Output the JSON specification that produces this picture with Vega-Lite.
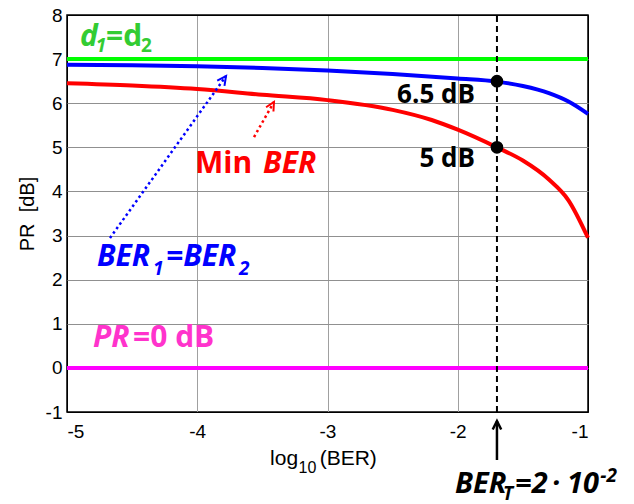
{
  "$schema": "https://vega.github.io/schema/vega-lite/v6.json",
  "width": 521,
  "height": 397,
  "autosize": {"type": "none"},
  "padding": {"left": 67, "top": 15, "right": 46, "bottom": 92},
  "background": "white",
  "config": {
    "view": {"stroke": "black", "strokeWidth": 1.5},
    "axis": {
      "labelFont": "Liberation Sans",
      "labelFontSize": 19,
      "labelColor": "black",
      "titleFont": "Liberation Sans",
      "titleFontWeight": "normal",
      "titleColor": "black",
      "ticks": false,
      "domain": false,
      "grid": true,
      "gridWidth": 1
    }
  },
  "datasets": {
    "curves": [
      {"s": "d1=d2", "x": -5, "y": 7},
      {"s": "d1=d2", "x": -1, "y": 7},
      {"s": "PR=0", "x": -5, "y": 0},
      {"s": "PR=0", "x": -1, "y": 0},
      {"s": "BER1=BER2", "x": -5, "y": 6.87},
      {"s": "BER1=BER2", "x": -4.5, "y": 6.86},
      {"s": "BER1=BER2", "x": -4, "y": 6.84},
      {"s": "BER1=BER2", "x": -3.5, "y": 6.8},
      {"s": "BER1=BER2", "x": -3, "y": 6.74},
      {"s": "BER1=BER2", "x": -2.5, "y": 6.66},
      {"s": "BER1=BER2", "x": -2, "y": 6.56},
      {"s": "BER1=BER2", "x": -1.7, "y": 6.49},
      {"s": "BER1=BER2", "x": -1.5, "y": 6.39},
      {"s": "BER1=BER2", "x": -1.3, "y": 6.23},
      {"s": "BER1=BER2", "x": -1.15, "y": 6.04},
      {"s": "BER1=BER2", "x": -1, "y": 5.76},
      {"s": "Min BER", "x": -5, "y": 6.45},
      {"s": "Min BER", "x": -4.5, "y": 6.4},
      {"s": "Min BER", "x": -4, "y": 6.32},
      {"s": "Min BER", "x": -3.5, "y": 6.19},
      {"s": "Min BER", "x": -3, "y": 6.07},
      {"s": "Min BER", "x": -2.5, "y": 5.85},
      {"s": "Min BER", "x": -2.2, "y": 5.62},
      {"s": "Min BER", "x": -2, "y": 5.4},
      {"s": "Min BER", "x": -1.7, "y": 5.0},
      {"s": "Min BER", "x": -1.5, "y": 4.7},
      {"s": "Min BER", "x": -1.3, "y": 4.27},
      {"s": "Min BER", "x": -1.15, "y": 3.8},
      {"s": "Min BER", "x": -1, "y": 2.95}
    ],
    "vline": [{"s": "black", "x": -1.699, "y": -1, "y2": 8}],
    "dots": [
      {"s": "black", "x": -1.699, "y": 6.5},
      {"s": "black", "x": -1.699, "y": 5.0}
    ],
    "arrows": [
      {"s": "BER1=BER2", "x": -4.67, "y": 2.944},
      {"s": "BER1=BER2", "x": -3.779, "y": 6.617},
      {"s": "Min BER", "x": -3.564, "y": 5.234},
      {"s": "Min BER", "x": -3.411, "y": 6.028},
      {"s": "black", "x": -1.699, "y": -2.088},
      {"s": "black", "x": -1.699, "y": -1.204}
    ],
    "heads": [
      {"s": "BER1=BER2", "x": -3.779, "y": 6.617},
      {"s": "Min BER", "x": -3.411, "y": 6.028},
      {"s": "black", "x": -1.699, "y": -1.204}
    ],
    "labels": [
      {"s": "d1=d2 label", "t": "d", "x": -4.9, "y": 7.3, "p": "i"},
      {"s": "d1=d2 label", "t": "1", "x": -4.78, "y": 7.16, "p": "is"},
      {"s": "d1=d2 label", "t": "=d", "x": -4.7, "y": 7.3, "p": "n"},
      {"s": "d1=d2 label", "t": "2", "x": -4.432, "y": 7.16, "p": "ns"},
      {"s": "Min BER", "t": "Min", "x": -4.017, "y": 4.418, "p": "n"},
      {"s": "Min BER", "t": "BER", "x": -3.495, "y": 4.418, "p": "i"},
      {"s": "BER1=BER2", "t": "BER", "x": -4.77, "y": 2.31, "p": "i"},
      {"s": "BER1=BER2", "t": "1", "x": -4.34, "y": 2.106, "p": "is"},
      {"s": "BER1=BER2", "t": "=BER", "x": -4.24, "y": 2.31, "p": "i"},
      {"s": "BER1=BER2", "t": "2", "x": -3.679, "y": 2.106, "p": "is"},
      {"s": "PR=0 label", "t": "PR", "x": -4.8, "y": 0.473, "p": "i"},
      {"s": "PR=0 label", "t": "=0 dB", "x": -4.493, "y": 0.473, "p": "n"},
      {"s": "black", "t": "6.5 dB", "x": -1.868, "y": 6.005, "p": "r"},
      {"s": "black", "t": "5 dB", "x": -1.868, "y": 4.554, "p": "r"},
      {"s": "black", "t": "BER", "x": -2.021, "y": -2.837, "p": "ib"},
      {"s": "black", "t": "T", "x": -1.653, "y": -2.99, "p": "is"},
      {"s": "black", "t": "=2", "x": -1.56, "y": -2.837, "p": "ib"},
      {"s": "black", "t": "·", "x": -1.276, "y": -2.837, "p": "ib"},
      {"s": "black", "t": "10", "x": -1.161, "y": -2.837, "p": "ib"},
      {"s": "black", "t": "-2", "x": -0.905, "y": -2.587, "p": "is"},
      {"s": "black", "t": "log", "x": -3.441, "y": -2.202, "p": "t"},
      {"s": "black", "t": "10", "x": -3.222, "y": -2.383, "p": "ts"},
      {"s": "black", "t": "(BER)", "x": -3.06, "y": -2.202, "p": "t"}
    ]
  },
  "encoding": {
    "x": {
      "field": "x",
      "type": "quantitative",
      "scale": {"domain": [-5, -1], "nice": false, "zero": false},
      "axis": {
        "title": null,
        "values": [-5, -4, -3, -2, -1],
        "labelExpr": "toString(datum.value)",
        "labelPadding": 10,
        "gridColor": {"condition": {"test": "datum.value === -5 || datum.value === -1", "value": "black"}, "value": "#a0a0a0"}
      }
    },
    "y": {
      "field": "y",
      "type": "quantitative",
      "scale": {"domain": [-1, 8], "nice": false, "zero": false},
      "axis": {
        "title": "PR\u00a0 [dB]",
        "titleFontSize": 20,
        "titlePadding": 8,
        "values": [-1, 0, 1, 2, 3, 4, 5, 6, 7, 8],
        "labelExpr": "toString(datum.value)",
        "labelPadding": 5,
        "gridColor": {"condition": {"test": "datum.value === -1 || datum.value === 8", "value": "black"}, "value": "#909090"}
      }
    },
    "color": {
      "field": "s",
      "type": "nominal",
      "scale": {
        "domain": ["d1=d2", "PR=0", "BER1=BER2", "Min BER", "d1=d2 label", "PR=0 label", "black"],
        "range": ["#00ff00", "#ff00ff", "#0000ff", "#ff0000", "#33cc33", "#ff33cc", "#000000"]
      },
      "legend": null
    }
  },
  "layer": [
    {
      "data": {"name": "curves"},
      "mark": {"type": "line", "strokeWidth": 4, "interpolate": "monotone"}
    },
    {
      "data": {"name": "vline"},
      "mark": {"type": "rule", "strokeDash": [6, 4], "strokeWidth": 2},
      "encoding": {"y2": {"field": "y2"}}
    },
    {
      "data": {"name": "dots"},
      "mark": {"type": "point", "shape": "circle", "filled": true, "size": 160, "opacity": 1}
    },
    {
      "data": {"name": "arrows"},
      "transform": [{"filter": "datum.s !== 'black'"}],
      "mark": {"type": "line", "strokeWidth": 2.5, "strokeDash": [2.5, 3]},
      "encoding": {"order": {"field": "y", "type": "quantitative"}}
    },
    {
      "data": {"name": "arrows"},
      "transform": [{"filter": "datum.s === 'black'"}],
      "mark": {"type": "line", "strokeWidth": 2.5},
      "encoding": {"order": {"field": "y", "type": "quantitative"}}
    },
    {
      "data": {"name": "heads"},
      "transform": [{"filter": "datum.s === 'BER1=BER2'"}],
      "mark": {"type": "point", "shape": "M-0.6,1.2L0,0L0.6,1.2", "filled": false, "strokeWidth": 2, "size": 220, "angle": 35.6, "opacity": 1}
    },
    {
      "data": {"name": "heads"},
      "transform": [{"filter": "datum.s === 'Min BER'"}],
      "mark": {"type": "point", "shape": "M-0.6,1.2L0,0L0.6,1.2", "filled": false, "strokeWidth": 2, "size": 200, "angle": 29.7, "opacity": 1}
    },
    {
      "data": {"name": "heads"},
      "transform": [{"filter": "datum.s === 'black'"}],
      "mark": {"type": "point", "shape": "M-0.6,1.2L0,0L0.6,1.2", "filled": false, "strokeWidth": 2.5, "size": 200, "angle": 0, "opacity": 1}
    },
    {
      "data": {"name": "labels"},
      "transform": [{"filter": "datum.p === 'n'"}],
      "mark": {"type": "text", "font": "Open Sans", "fontWeight": "bold", "fontSize": 30, "align": "left", "baseline": "alphabetic"},
      "encoding": {"text": {"field": "t"}}
    },
    {
      "data": {"name": "labels"},
      "transform": [{"filter": "datum.p === 'i'"}],
      "mark": {"type": "text", "font": "Open Sans", "fontWeight": "bold", "fontStyle": "italic", "fontSize": 30, "align": "left", "baseline": "alphabetic"},
      "encoding": {"text": {"field": "t"}}
    },
    {
      "data": {"name": "labels"},
      "transform": [{"filter": "datum.p === 'ib'"}],
      "mark": {"type": "text", "font": "Open Sans", "fontWeight": "bold", "fontStyle": "italic", "fontSize": 29, "align": "left", "baseline": "alphabetic"},
      "encoding": {"text": {"field": "t"}}
    },
    {
      "data": {"name": "labels"},
      "transform": [{"filter": "datum.p === 'ns'"}],
      "mark": {"type": "text", "font": "Open Sans", "fontWeight": "bold", "fontSize": 19, "align": "left", "baseline": "alphabetic"},
      "encoding": {"text": {"field": "t"}}
    },
    {
      "data": {"name": "labels"},
      "transform": [{"filter": "datum.p === 'is'"}],
      "mark": {"type": "text", "font": "Open Sans", "fontWeight": "bold", "fontStyle": "italic", "fontSize": 19, "align": "left", "baseline": "alphabetic"},
      "encoding": {"text": {"field": "t"}}
    },
    {
      "data": {"name": "labels"},
      "transform": [{"filter": "datum.p === 'r'"}],
      "mark": {"type": "text", "font": "Open Sans", "fontWeight": "bold", "fontSize": 26, "align": "right", "baseline": "alphabetic"},
      "encoding": {"text": {"field": "t"}}
    },
    {
      "data": {"name": "labels"},
      "transform": [{"filter": "datum.p === 't'"}],
      "mark": {"type": "text", "font": "Liberation Sans", "fontSize": 21, "align": "left", "baseline": "alphabetic"},
      "encoding": {"text": {"field": "t"}}
    },
    {
      "data": {"name": "labels"},
      "transform": [{"filter": "datum.p === 'ts'"}],
      "mark": {"type": "text", "font": "Liberation Sans", "fontSize": 16, "align": "left", "baseline": "alphabetic"},
      "encoding": {"text": {"field": "t"}}
    }
  ]
}
